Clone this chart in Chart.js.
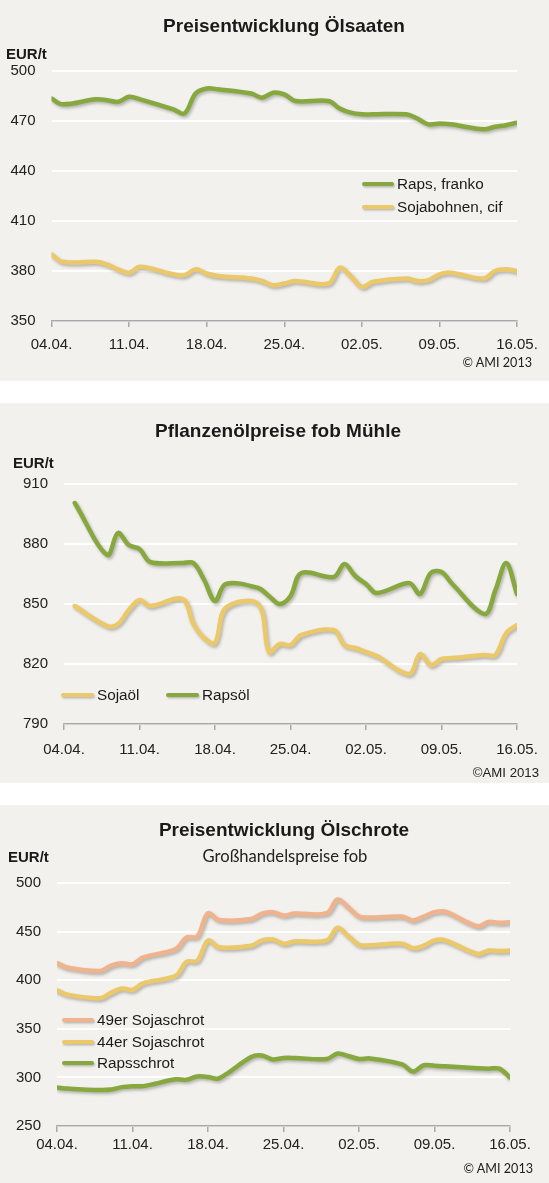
<!DOCTYPE html>
<html>
<head>
<meta charset="utf-8">
<script src="https://cdn.jsdelivr.net/npm/chart.js@4.4.0/dist/chart.umd.min.js"></script>
<style>
  html, body { margin: 0; padding: 0; background: #fff; }
  body { width: 549px; height: 1183px; position: relative; overflow: hidden; font-family: "Liberation Sans", Arial, sans-serif; color: #1a1a1a; }
  .panel { position: absolute; left: 0; width: 549px; background: #f2f1ed; }
  .panel canvas { position: absolute; left: 0; top: 0; }
  .txt { position: absolute; line-height: 1; transform: translateY(-50%); white-space: nowrap; }
  .title { font-weight: bold; font-size: 19px; transform: translate(-50%, -50%); }
  .sub { font-family: Lato, sans-serif; font-size: 16.6px; transform: translate(-50%, -50%); color: #222; }
  .unit { font-weight: bold; font-size: 15px; }
  .copy { font-family: Lato, sans-serif; font-size: 12.6px; transform: translate(-100%, -50%); color: #222; }
  .lg { position: absolute; height: 4px; border-radius: 2px; transform: translateY(-50%); box-shadow: 1px 1.5px 2px rgba(80,80,80,0.35); }
  .lgt { position: absolute; font-size: 15.3px; line-height: 1; transform: translateY(-50%); white-space: nowrap; color: #1a1a1a; }
</style>
</head>
<body>

<div class="panel" id="p1" style="top:0;height:381px">
  <canvas id="c1" width="549" height="381"></canvas>
  <div class="txt title" style="left:284px;top:25px">Preisentwicklung Ölsaaten</div>
  <div class="txt unit" style="left:6px;top:53px">EUR/t</div>
  <div class="txt copy" style="left:532px;top:363px">© AMI 2013</div>
</div>

<div class="panel" id="p2" style="top:403px;height:380px">
  <canvas id="c2" width="549" height="380"></canvas>
  <div class="txt title" style="left:278px;top:27px">Pflanzenölpreise fob Mühle</div>
  <div class="txt unit" style="left:13px;top:59px">EUR/t</div>
  <div class="txt copy" style="left:539px;top:370px;font-family:'Liberation Sans',sans-serif;font-size:13.2px">©AMI 2013</div>
</div>

<div class="panel" id="p3" style="top:805px;height:378px">
  <canvas id="c3" width="549" height="378"></canvas>
  <div class="txt title" style="left:284px;top:24px">Preisentwicklung Ölschrote</div>
  <div class="txt sub" style="left:285px;top:51px">Großhandelspreise fob</div>
  <div class="txt unit" style="left:8px;top:51px">EUR/t</div>
  <div class="txt copy" style="left:533px;top:364px">© AMI 2013</div>
</div>

<script>
// trading days counted from 04.04.2013
var days = [0, 1, 4, 5, 6, 7, 8, 11, 12, 13, 14, 15, 18, 19, 20, 21, 22, 25, 26, 27, 28, 29, 32, 33, 34, 35, 36, 39, 40, 41, 42];
var dateTicks = ['04.04.', '11.04.', '18.04.', '25.04.', '02.05.', '09.05.', '16.05.'];

// Ölsaaten
var rapsFranko = [483.5, 480, 483, 482.5, 481.5, 484.5, 483, 477, 474.5, 486.5, 489.5, 489, 486.5, 484, 487, 486, 482, 482, 477.5, 475, 474, 474, 474, 471.5, 468, 468.5, 468, 465, 466.5, 467.5, 469];
var sojabohnenCif = [390, 385.5, 385.5, 384, 381, 379, 382.5, 378, 377.5, 381, 378.5, 377, 375.5, 374, 371.5, 372.5, 374, 372.5, 382, 377, 370.5, 373.5, 375.5, 374, 374.5, 378, 379, 375.5, 380, 381, 380];

// Pflanzenöle
var sojaoel = [null, 849, 839, 840, 847, 852, 849, 852.5, 840, 833, 830.5, 848, 850, 826, 830, 829.5, 834.5, 837, 829.5, 828, 826, 824, 815, 825, 819.5, 822.5, 823, 824.5, 824.5, 835.5, 839.5];
var rapsoel = [null, 900.5, 874.5, 885.5, 879.5, 877.5, 871, 870.5, 870.5, 862, 851.5, 860, 858, 854, 850, 854, 865.5, 863.5, 870, 864, 860, 855.5, 860.5, 855, 865.5, 866, 860, 845, 857, 870.5, 855];

// Ölschrote
var soja49 = [417.5, 413, 409.5, 415, 417.5, 416.5, 423.5, 432, 444, 445, 469, 462, 463, 468.5, 470, 466.5, 468.5, 469, 483, 475, 465.5, 464.5, 465.5, 461.5, 465.5, 470, 470.5, 455.5, 460, 459, 459.5];
var soja44 = [389.5, 385, 381.5, 387, 391.5, 390, 397, 404.5, 419, 420, 441, 434, 435.5, 441, 442, 437.5, 440, 441, 454, 445.5, 436.5, 436, 437.5, 433, 435.5, 441, 441, 427, 430.5, 430, 430.5];
var rapsschrot = [289.5, 288.5, 287, 287.5, 290, 291, 291, 298, 297.5, 301, 300.5, 299, 321, 322.5, 318.5, 320, 320, 319, 324.5, 322, 319, 319.5, 313.5, 306, 312.5, 312, 311.5, 309.5, 309, 309, 300];

var GREEN = '#86a83e';
var YELLOW = '#ebc96a';
var SALMON = '#efb48d';

function pts(vals) {
    return days.map(function(d, i) { return { x: d, y: vals[i] }; });
}

function line(label, vals, color) {
    return {
        label: label,
        data: pts(vals),
        borderColor: color,
        backgroundColor: color,
        borderWidth: 4.5,
        pointRadius: 0,
        tension: 0.35,
        borderCapStyle: 'round',
        borderJoinStyle: 'round'
    };
}

// soft drop shadow under the lines, like the original
var shadowPlugin = {
    id: 'shadow',
    beforeDatasetDraw: function(chart) {
        var ctx = chart.ctx;
        ctx.save();
        ctx.shadowColor = 'rgba(70,70,70,0.35)';
        ctx.shadowBlur = 3;
        ctx.shadowOffsetX = 1.5;
        ctx.shadowOffsetY = 2;
    },
    afterDatasetDraw: function(chart) {
        chart.ctx.restore();
    }
};

Chart.defaults.font.family = '"Liberation Sans", Arial, sans-serif';
Chart.defaults.color = '#222';

function makeOptions(yMin, yMax, yStep, pad, yWidth, xPad) {
    return {
        responsive: false,
        animation: false,
        layout: { padding: pad },
        plugins: { legend: { display: false }, tooltip: { enabled: false } },
        scales: {
            x: {
                type: 'linear',
                min: 0,
                max: 42,
                afterFit: function(s) { s.height = 35; },
                afterBuildTicks: function(s) {
                    s.ticks = dateTicks.map(function(t, i) { return { value: i * 7 }; });
                },
                ticks: {
                    font: { size: 15 },
                    padding: xPad,
                    maxRotation: 0,
                    autoSkip: false,
                    callback: function(v) { return dateTicks[v / 7]; }
                },
                grid: { drawOnChartArea: false, drawTicks: true, tickLength: 6, color: '#a8a8a8', lineWidth: 1.5 },
                border: { color: '#a8a8a8', width: 1.5 }
            },
            y: {
                min: yMin,
                max: yMax,
                afterFit: function(s) { s.width = yWidth; },
                ticks: { stepSize: yStep, font: { size: 15 }, padding: 16 },
                grid: { color: '#ffffff', lineWidth: 2, drawTicks: false },
                border: { display: false }
            }
        }
    };
}

function legend(panelId, chart, rows) {
    var panel = document.getElementById(panelId);
    chart.data.datasets.forEach(function(ds, i) {
        var r = rows[i];
        var ln = document.createElement('div');
        ln.className = 'lg';
        ln.style.left = r[0] + 'px';
        ln.style.width = r[1] + 'px';
        ln.style.top = r[2] + 'px';
        ln.style.background = ds.borderColor;
        panel.appendChild(ln);
        var tx = document.createElement('div');
        tx.className = 'lgt';
        tx.style.left = (r[0] + r[1] + 3) + 'px';
        tx.style.top = r[2] + 'px';
        tx.textContent = ds.label;
        panel.appendChild(tx);
    });
}

var chart1 = new Chart(document.getElementById('c1'), {
    type: 'line',
    data: { datasets: [
        line('Raps, franko', rapsFranko, GREEN),
        line('Sojabohnen, cif', sojabohnenCif, YELLOW)
    ] },
    options: makeOptions(350, 500, 30, { top: 71, right: 32, bottom: 25, left: 0 }, 51.5, 9),
    plugins: [shadowPlugin]
});
legend('p1', chart1, [[362, 32, 184], [362, 32, 207]]);

var chart2 = new Chart(document.getElementById('c2'), {
    type: 'line',
    data: { datasets: [
        line('Sojaöl', sojaoel, YELLOW),
        line('Rapsöl', rapsoel, GREEN)
    ] },
    options: makeOptions(790, 910, 30, { top: 81, right: 32, bottom: 24, left: 0 }, 64, 11),
    plugins: [shadowPlugin]
});
legend('p2', chart2, [[61, 33, 292], [166, 33, 292]]);

var chart3 = new Chart(document.getElementById('c3'), {
    type: 'line',
    data: { datasets: [
        line('49er Sojaschrot', soja49, SALMON),
        line('44er Sojaschrot', soja44, YELLOW),
        line('Rapsschrot', rapsschrot, GREEN)
    ] },
    options: makeOptions(250, 500, 50, { top: 78, right: 39, bottom: 22, left: 0 }, 57, 4),
    plugins: [shadowPlugin]
});
legend('p3', chart3, [[62, 32, 215], [62, 32, 237], [62, 32, 258]]);
</script>
</body>
</html>
